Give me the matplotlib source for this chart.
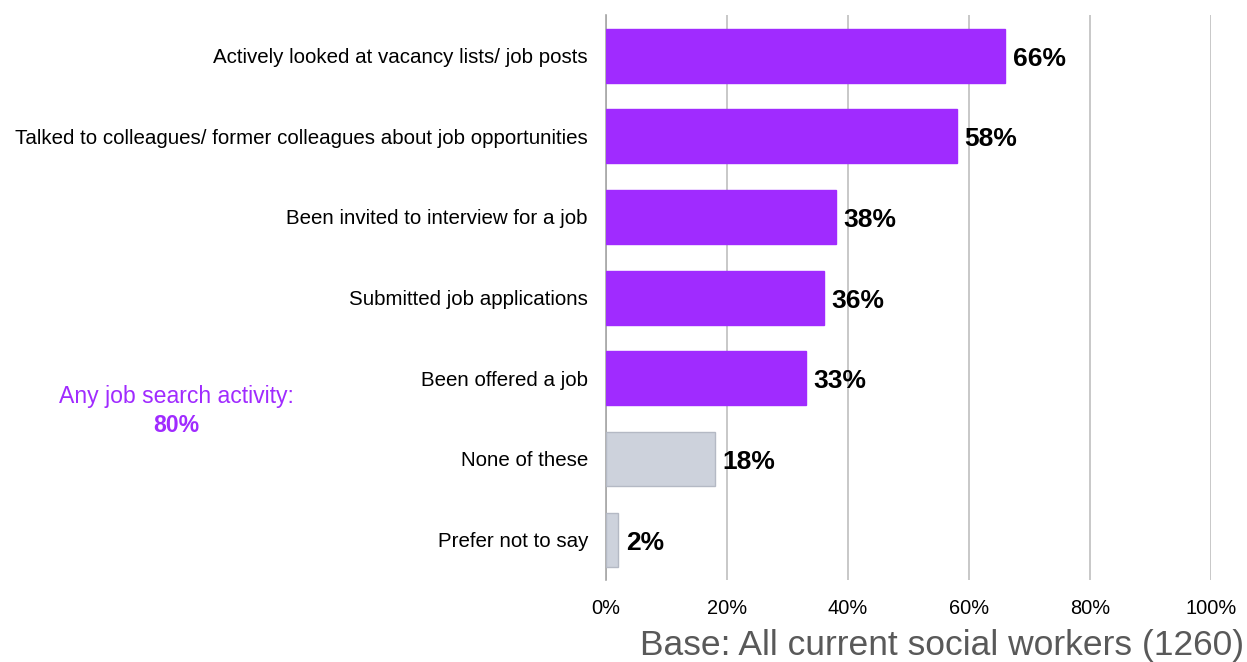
import matplotlib.pyplot as plt

categories = [
    'Actively looked at vacancy lists/ job posts',
    'Talked to colleagues/ former colleagues about job opportunities',
    'Been invited to interview for a job',
    'Submitted job applications',
    'Been offered a job',
    'None of these',
    'Prefer not to say',
]
values = [66, 58, 38, 36, 33, 18, 2]
labels = ['66%', '58%', '38%', '36%', '33%', '18%', '2%']
bar_colors = ['#A02BFF'] * 5 + ['#CDD2DC'] * 2
edge_colors = ['#A02BFF'] * 5 + ['#B4B9C4'] * 2
x_ticks = [0, 20, 40, 60, 80, 100]

plt.rcParams['font.family'] = ['Liberation Sans', 'DejaVu Sans']

fig = plt.figure(figsize=(12.47, 6.62), dpi=100)
ax = fig.add_axes([0.486, 0.124, 0.485, 0.853])

y = list(range(len(categories)))
ax.barh(y, values, height=0.67, color=bar_colors, edgecolor=edge_colors,
        linewidth=1, zorder=3)

# value labels just past the bar ends
for yi, v, lab in zip(y, values, labels):
    ax.text(v + 1.3, yi + 0.04, lab, va='center', ha='left', fontsize=19,
            fontweight='bold', color='black', zorder=4)

ax.set_xlim(0, 100)
ax.set_ylim(len(categories) - 0.5, -0.5)
ax.set_xticks(x_ticks)
ax.set_xticklabels([f'{t}%' for t in x_ticks], fontsize=14.4)
ax.set_yticks(y)
ax.set_yticklabels(categories, fontsize=14.8)
ax.tick_params(axis='x', length=0, pad=14)
ax.tick_params(axis='y', length=0, pad=13)

ax.grid(axis='x', color='#BFBFBF', linewidth=1.2, zorder=0)
for s in ['top', 'right', 'bottom']:
    ax.spines[s].set_visible(False)
ax.spines['left'].set_color('#A6A6A6')
ax.spines['left'].set_linewidth(1.2)

# side note
fig.text(176 / 1247, 1 - 397 / 662, 'Any job search activity:', ha='center',
         va='center', fontsize=16.6, color='#A02BFF')
fig.text(176 / 1247, 1 - 426 / 662, '80%', ha='center', va='center',
         fontsize=16.6, color='#A02BFF', fontweight='bold')

fig.text(1244 / 1247, 1 - 646 / 662, 'Base: All current social workers (1260)',
         ha='right', va='center', fontsize=25.5, color='#595959')

fig.savefig('out.png', dpi=100)
